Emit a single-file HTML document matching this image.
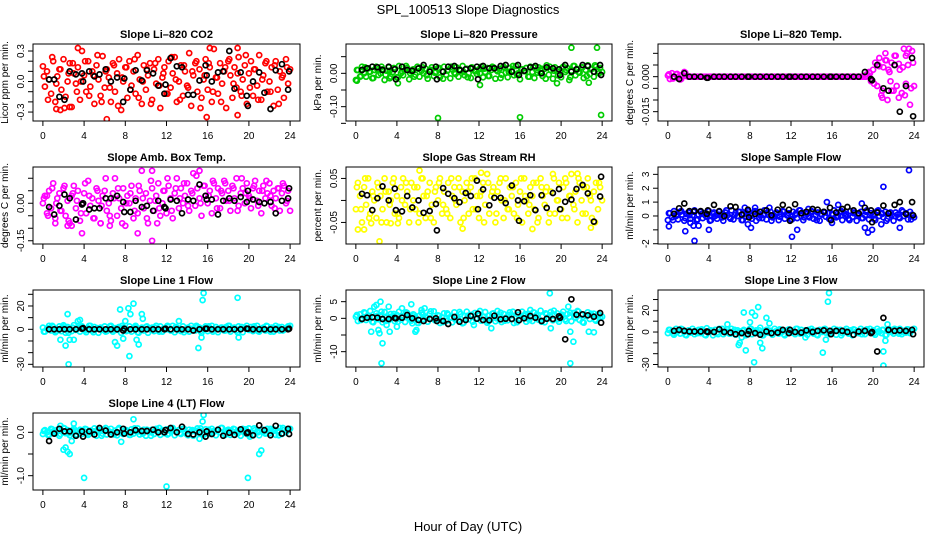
<!DOCTYPE html>
<html><head><meta charset="utf-8"><title>SPL_100513 Slope Diagnostics</title>
<style>
html,body{margin:0;padding:0;background:#fff;}
svg{display:block;font-family:"Liberation Sans",Arial,sans-serif;}
</style></head>
<body>
<svg id="chart" width="936" height="540" viewBox="0 0 936 540" xmlns="http://www.w3.org/2000/svg">
<rect x="0" y="0" width="936" height="540" fill="#fff"/>
<text x="468" y="14" text-anchor="middle" font-size="13">SPL_100513  Slope Diagnostics</text>
<text x="468" y="531" text-anchor="middle" font-size="13">Hour of Day (UTC)</text>
</svg>
<script>
// ---------- shared x data ----------
const HOURS = [0,0.2,0.4,0.6,0.8,1,1.2,1.4,1.6,1.8,2,2.2,2.4,2.6,2.8,3,3.2,3.4,3.6,3.8,4,4.2,4.4,4.6,4.8,5,5.2,5.4,5.6,5.8,6,6.2,6.4,6.6,6.8,7,7.2,7.4,7.6,7.8,8,8.2,8.4,8.6,8.8,9,9.2,9.4,9.6,9.8,10,10.2,10.4,10.6,10.8,11,11.2,11.4,11.6,11.8,12,12.2,12.4,12.6,12.8,13,13.2,13.4,13.6,13.8,14,14.2,14.4,14.6,14.8,15,15.2,15.4,15.6,15.8,16,16.2,16.4,16.6,16.8,17,17.2,17.4,17.6,17.8,18,18.2,18.4,18.6,18.8,19,19.2,19.4,19.6,19.8,20,20.2,20.4,20.6,20.8,21,21.2,21.4,21.6,21.8,22,22.2,22.4,22.6,22.8,23,23.2,23.4,23.6,23.8,24];
const HOURS2 = [0.1,0.5,0.9,1.3,1.7,2.1,2.5,2.9,3.3,3.7,4.1,4.5,4.9,5.3,5.7,6.1,6.5,6.9,7.3,7.7,8.1,8.5,8.9,9.3,9.7,10.1,10.5,10.9,11.3,11.7,12.1,12.5,12.9,13.3,13.7,14.1,14.5,14.9,15.3,15.7,16.1,16.5,16.9,17.3,17.7,18.1,18.5,18.9,19.3,19.7,20.1,20.5,20.9,21.3,21.7,22.1,22.5,22.9,23.3,23.7];
const BLACK_HOURS = [0.6,1.1,1.6,2.1,2.6,3.2,3.8,3.9,4.5,5.0,5.5,6.1,6.6,7.2,7.8,7.9,8.5,9.0,9.6,10.1,10.7,11.2,11.8,11.9,12.4,13.0,13.5,14.1,14.6,15.2,15.8,15.9,16.4,17.0,17.5,18.1,18.6,19.2,19.8,19.9,20.4,21.0,21.5,22.1,22.6,23.2,23.8,23.9];
const X_TICKS = [0,4,8,12,16,20,24];

// ---------- CO2 ----------
const co2Vals = [0.15,-0.05,0.1,0.02,-0.12,0.2,-0.2,0.05,0.12,-0.08,0.22,-0.15,0.0,0.18,-0.25,0.08,-0.02,0.14,-0.18,0.3,0.06,-0.1,0.2,-0.05,0.1,-0.22,0.16,0.02,-0.14,0.25,-0.06,0.12,0.04,-0.2,0.18,-0.1,0.08,0.22,-0.28,0.0,0.14,-0.16,0.2,-0.04,0.1,-0.12,0.26,0.02,-0.22,0.16,-0.08,0.06,0.18,-0.18,0.12,-0.02,0.22,-0.26,0.04,0.14,-0.12,0.2,-0.06,0.08,0.24,-0.2,0.0,0.16,-0.14,0.1,-0.04,0.28,-0.24,0.06,0.18,-0.1,0.12,-0.16,0.02,0.22,-0.08,0.14,-0.2,0.32,0.04,-0.12,0.18,-0.02,0.1,-0.26,0.2,0.06,-0.16,0.14,-0.06,0.24,-0.1,0.02,0.16,-0.22,0.08,0.2,-0.14,0.12,-0.04,0.26,-0.18,0.06,0.18,-0.1,0.0,0.14,-0.24,0.2,-0.08,0.1,0.04,-0.16,0.22,-0.02,0.12];
const co2Vals2 = [0.05,-0.18,0.24,-0.02,0.12,-0.26,0.08,0.18,-0.1,0.0,0.2,-0.14,0.06,0.26,-0.2,0.1,-0.06,0.16,-0.24,0.04,0.14,-0.08,0.22,-0.16,0.0,0.12,-0.22,0.18,-0.04,0.08,-0.12,0.24,0.02,-0.18,0.16,-0.06,0.1,0.2,-0.26,0.06,0.18,-0.1,0.04,-0.2,0.14,0.22,-0.02,0.08,-0.14,0.26,-0.06,0.12,-0.18,0.02,0.2,-0.1,0.16,-0.22,0.06,0.14];
const co2OutHours = [3.4,6.2,15.9,18.9,16.2,18.9,1.3,1.7,2.6];
const co2OutVals = [0.33,-0.37,-0.35,-0.33,0.33,0.33,-0.27,-0.28,-0.25];
const co2Black = [0.02,0.02,-0.15,-0.18,0.1,0.07,0.08,0.0,0.1,0.05,0.07,0.12,0.0,0.04,-0.2,0.03,-0.08,0.11,0.01,0.11,0.08,-0.04,-0.12,-0.03,0.23,0.15,0.14,-0.13,-0.13,0.01,0.16,0.06,0.0,0.09,0.1,0.3,-0.07,0.09,-0.14,-0.24,0.0,0.09,-0.11,-0.27,0.11,0.17,-0.08,0.1];
const co2Ticks = [-0.3,-0.2,-0.1,0,0.1,0.2,0.3];
const co2TickLabels = ["-0.3","","","0.0","","","0.3"];

// ---------- Pressure ----------
const presVals = [-0.02,0.01,-0.01,0.02,0.0,-0.01,0.015,0.005,-0.015,0.01,0.02,-0.005,0.0,0.012,-0.02,0.008,0.018,-0.01,0.004,0.015,-0.012,0.022,0.0,-0.006,0.01,0.016,-0.018,0.006,0.012,-0.004,0.02,-0.01,0.008,0.0,0.014,-0.016,0.01,0.018,-0.008,0.004,0.016,-0.012,0.006,0.02,-0.004,0.01,-0.015,0.012,0.002,0.018,-0.01,0.008,0.022,-0.006,0.014,0.0,-0.014,0.016,0.006,-0.002,0.012,0.02,-0.012,0.004,0.016,-0.008,0.01,0.018,-0.016,0.006,0.014,-0.004,0.02,0.002,-0.012,0.016,0.008,-0.006,0.022,0.0,-0.018,0.012,0.006,0.016,-0.01,0.02,0.004,-0.014,0.01,0.018,0.0,-0.008,0.014,0.024,-0.004,0.01,-0.016,0.018,0.006,0.012,-0.012,0.02,0.004,0.016,-0.02,0.008,0.022,-0.006,0.012,0.002,0.018,-0.014,0.01,0.024,-0.002,0.014,-0.01,0.02,0.006,0.016,0.004];
const presVals2 = [0.01,-0.008,0.018,0.004,-0.014,0.012,0.02,-0.004,0.008,0.016,-0.012,0.006,0.022,0.0,-0.01,0.014,0.018,-0.006,0.01,0.002,0.016,-0.016,0.008,0.02,-0.002,0.012,0.004,-0.012,0.018,0.006,0.0,0.014,-0.008,0.02,0.01,-0.014,0.016,0.004,0.022,-0.004,0.012,0.006,-0.01,0.018,0.002,0.014,-0.016,0.02,0.008,-0.006,0.016,0.01,-0.012,0.022,0.004,0.018,-0.008,0.012,0.024,0.0];
const presOutHours = [8,16,23.9,21,23.5,4.1,12.1,19.6,22.7,0.1,3.3];
const presOutVals = [-0.134,-0.132,-0.125,0.077,0.077,-0.03,-0.035,-0.03,-0.028,-0.022,-0.015];
const presBlack = [0.01,0.015,0.02,0.018,0.01,0.02,0.012,-0.018,0.02,0.01,0.008,0.015,0.025,0.005,0.02,-0.018,0.005,0.02,0.022,0.01,0.012,0.015,0.02,-0.018,0.022,0.015,0.015,0.022,0.025,0.005,0.025,-0.005,0.008,0.018,0.022,0.0,0.018,0.015,0.012,-0.005,0.025,0.005,0.012,0.025,0.022,0.005,0.025,-0.005];
const presTicks = [-0.15,-0.10,-0.05,0,0.05];
const presTickLabels = ["","-0.10","","0.00",""];

// ---------- Li-820 Temp ----------
const tempVals = [0.0005,-0.001,0.0015,-0.0005,0.001,0.0,-0.0012,0.0008,0.002,0.0003,
0,0,0,0,0,0,0,0,0,0,0,0,0,0,0,0,0,0,0,0,0,0,0,0,0,0,0,0,0,0,0,0,0,0,0,0,0,0,0,0,0,0,0,0,0,0,0,0,0,0,0,0,0,0,0,0,0,0,0,0,0,0,0,0,0,0,0,0,0,0,0,0,0,0,0,0,0,0,0,0,0,0,0,0,0,0,0,
0.001,0.002,-0.002,0.003,0.006,-0.004,0.008,-0.008,0.004,0.01,-0.01,0.002,0.006,-0.006,0.009,-0.022,0.003,-0.007,0.012,-0.003,0.005,-0.012,0.011,-0.004];
const tempVals2 = [0.001,-0.0008,0.0012,-0.001,0.0016,0,0,0,0,0,0,0,0,0,0,0,0,0,0,0,0,0,0,0,0,0,0,0,0,0,0,0,0,0,0,0,0,0,0,0,0,0,0,0,0,0,0,0,0,0.0015,-0.003,0.005,-0.006,0.007,-0.002,0.009,-0.009,0.004,0.01,-0.005];
const tempOutHours = [21.4,22.8,23.7,23.5,23.2,20.9,22.1,21.5,23.1,21.8,22.5,20.6,21.2,22.3,23.9];
const tempOutVals = [-0.027,-0.024,-0.025,0.012,0.009,-0.009,0.005,0.003,-0.008,-0.006,0.0055,0.0045,0.007,-0.004,0.006];
const tempBlack = [0,-0.001,0.0015,0,0,0,-0.0005,-0.0005,0,0,0,0,0,0,0,0,0,0,0,0,0,0,0,0,0,0,0,0,0,0,0,0,0,0,0,0,0,0.002,-0.001,-0.0015,0.005,-0.005,-0.006,0.005,-0.015,-0.004,0.008,-0.017];
const tempTicks = [-0.015,-0.010,-0.005,0,0.005,0.010];
const tempTickLabels = ["-0.015","","","0.000","",""];

// ---------- Amb Box Temp ----------
const ambVals = [0.0,0.03,-0.04,0.05,-0.02,0.08,-0.06,0.02,0.04,-0.03,0.06,-0.05,0.01,-0.08,0.03,0.07,-0.02,0.05,-0.07,0.0,0.04,-0.04,0.09,-0.01,0.02,-0.06,0.06,0.01,-0.08,0.03,0.05,-0.03,0.0,-0.07,0.04,0.1,-0.05,0.02,-0.02,0.06,-0.09,0.03,0.0,0.07,-0.06,0.02,-0.04,0.05,0.13,-0.02,0.04,-0.08,0.01,0.06,-0.03,0.03,0.08,-0.05,0.0,0.05,-0.04,0.07,0.02,-0.06,0.04,0.1,-0.02,0.06,0.0,0.03,0.08,-0.03,0.05,0.12,-0.01,0.06,0.02,-0.05,0.07,0.03,0.0,0.05,-0.04,0.08,0.02,0.06,-0.02,0.04,0.09,0.01,0.05,-0.03,0.07,0.02,0.1,-0.01,0.04,0.06,0.0,0.08,0.03,-0.02,0.06,0.09,0.01,0.05,-0.04,0.07,0.02,0.04,0.08,-0.01,0.05,0.02,0.06,-0.03,0.04,0.07,0.0,0.05,-0.03];
const ambVals2 = [0.02,-0.05,0.06,0.0,-0.03,0.07,-0.07,0.04,0.01,-0.04,0.08,0.03,-0.06,0.05,-0.01,0.1,-0.05,0.02,0.06,-0.08,0.0,0.04,-0.03,0.07,0.02,-0.06,0.09,0.01,-0.02,0.05,0.1,-0.03,0.06,0.02,0.08,-0.01,0.04,0.11,0.0,0.07,0.03,0.09,-0.02,0.05,0.08,0.01,0.06,-0.03,0.1,0.04,0.02,0.07,-0.01,0.05,0.09,0.03,-0.02,0.06,0.08,0.01];
const ambOutHours = [3.8,9.2,10.6,10.6,15.2,11.1,2.4,1.2,0.4,2.8,6.5,5.6];
const ambOutVals = [-0.12,-0.12,0.13,-0.15,0.13,-0.08,-0.09,-0.08,0.03,-0.09,-0.09,-0.08];
const ambBlack = [-0.015,-0.045,-0.01,0.035,0.02,-0.065,-0.005,0.0,-0.025,-0.02,-0.02,0.02,0.02,0.03,0.005,-0.035,-0.035,0.01,-0.015,-0.01,-0.03,0.01,-0.015,-0.02,0.015,0.01,-0.04,0.015,0.01,0.075,0.03,0.015,0.015,-0.045,0.01,0.02,0.01,0.025,0.005,0.05,0.015,0.005,0.0,0.005,-0.04,0.01,0.02,0.06];
const ambTicks = [-0.15,-0.10,-0.05,0,0.05,0.10];
const ambTickLabels = ["-0.15","","","0.00","",""];

// ---------- Gas Stream RH ----------
const rhVals = [-0.02,0.04,0.01,-0.05,0.03,-0.01,0.05,-0.03,0.02,0.0,-0.04,0.03,0.01,-0.02,0.05,-0.05,0.02,0.0,0.04,-0.03,0.01,-0.04,0.03,0.05,-0.01,0.02,-0.05,0.04,0.0,-0.02,0.03,-0.03,0.05,0.01,-0.04,0.02,0.04,-0.01,-0.05,0.03,0.0,0.05,-0.03,0.02,-0.02,0.04,-0.04,0.01,0.03,-0.01,0.05,-0.05,0.02,0.0,0.04,-0.03,0.03,-0.02,0.05,0.01,-0.04,0.02,0.04,-0.01,0.06,-0.03,0.01,0.03,-0.05,0.02,0.04,0.0,-0.04,0.05,-0.02,0.03,0.01,-0.03,0.04,-0.01,0.02,-0.05,0.05,0.0,-0.03,0.03,0.01,-0.02,0.04,-0.04,0.05,0.01,-0.01,0.03,-0.05,0.02,0.06,-0.03,0.0,0.04,-0.02,0.03,0.05,-0.04,0.01,0.06,-0.01,0.02,-0.05,0.04,0.0,0.03,-0.03,0.05,0.01,-0.04,0.02,0.04,-0.02,0.03,0.0];
const rhVals2 = [0.03,-0.02,0.05,-0.04,0.01,0.04,-0.05,0.02,-0.01,0.05,-0.03,0.0,0.04,-0.02,0.03,-0.05,0.05,0.01,-0.04,0.02,0.04,-0.01,-0.03,0.05,0.0,0.03,-0.04,0.02,0.05,-0.02,0.01,-0.05,0.04,0.02,-0.03,0.05,0.0,-0.02,0.03,-0.04,0.05,0.01,-0.01,0.04,-0.05,0.03,0.02,-0.03,0.05,0.0,-0.04,0.04,0.01,-0.02,0.05,-0.03,0.03,0.0,-0.05,0.04];
const rhOutHours = [0.2,0.8,2.3,6.2,10.4,17.2,22.9,12.2,21.6,3.4,1.5,4.1];
const rhOutVals = [-0.066,-0.066,-0.093,0.068,-0.064,-0.065,-0.062,0.063,0.061,-0.052,-0.052,-0.052];
const rhBlack = [0.015,0.012,-0.022,0.005,0.032,0.0,0.027,-0.022,-0.025,0.01,-0.016,0.0,-0.028,-0.024,-0.008,-0.068,0.028,0.015,0.005,-0.004,0.017,0.01,0.045,-0.02,0.025,-0.011,0.006,0.006,-0.006,0.034,0.0,-0.046,-0.002,0.012,-0.022,0.012,-0.017,0.017,0.026,-0.02,-0.003,0.002,0.026,0.035,0.016,-0.048,0.009,0.054];
const rhTicks = [-0.05,0,0.05];
const rhTickLabels = ["-0.05","","0.05"];

// ---------- Sample Flow ----------
const sampVals = [-0.3,0.2,-0.1,0.35,0.0,-0.25,0.3,0.1,-0.35,0.15,0.25,-0.2,0.05,0.4,-0.3,0.1,0.3,-0.15,0.2,-0.05,0.35,-0.3,0.15,0.0,-0.2,0.3,0.1,-0.35,0.25,0.05,-0.1,0.4,-0.25,0.2,0.0,0.3,-0.3,0.15,-0.05,0.35,0.1,-0.2,0.3,-0.35,0.2,0.05,-0.15,0.4,-0.25,0.1,0.3,-0.1,0.0,0.25,-0.3,0.15,0.35,-0.2,0.05,0.2,-0.25,0.3,0.1,-0.15,0.4,0.0,-0.3,0.2,0.15,-0.1,0.35,-0.2,0.05,0.25,-0.35,0.1,0.3,-0.05,0.2,-0.25,0.15,0.4,-0.1,0.0,0.3,-0.3,0.2,0.1,-0.2,0.35,-0.05,0.25,-0.35,0.15,0.3,-0.15,0.05,0.4,-0.25,0.2,0.1,-0.3,0.35,0.0,0.2,-0.1,0.3,-0.2,0.15,0.05,-0.35,0.25,0.1,-0.15,0.4,0.0,0.2,-0.25,0.3,0.1,-0.1];
const sampVals2 = [0.2,-0.3,0.1,0.35,-0.15,0.05,0.3,-0.25,0.15,0.0,-0.35,0.25,0.1,-0.1,0.4,-0.2,0.05,0.3,-0.3,0.2,0.0,0.35,-0.15,0.1,0.25,-0.35,0.15,-0.05,0.3,0.05,-0.25,0.2,0.4,-0.1,0.0,0.3,-0.3,0.15,0.25,-0.2,0.1,-0.05,0.35,0.0,-0.3,0.2,0.1,-0.15,0.3,0.05,-0.2,0.4,0.15,-0.35,0.25,0.0,-0.1,0.3,0.1,-0.25];
const sampOutHours = [0.1,1.7,2.5,2.6,3.0,4.0,8.1,12.1,12.6,19.2,19.5,19.9,21.0,23.5,22.6,15.5,16.6,18.9,7.5,9.9,20.8,16.0,2.2,7.8,8.5,13.7];
const sampOutVals = [-0.75,-1.1,-0.7,-1.8,-0.7,-1.0,-0.85,-1.5,-1.0,-0.85,-1.2,-1.0,2.1,3.3,-0.85,1.0,0.8,0.9,0.6,0.6,-0.6,-0.5,-0.5,-0.6,0.6,0.5];
const sampBlack = [0.15,0.55,0.9,0.35,0.35,0.35,0.15,0.4,0.8,0.35,0.0,0.7,0.65,0.1,0.45,-0.1,0.15,0.3,0.4,0.05,0.45,0.8,0.45,-0.35,0.85,0.2,0.3,0.5,0.45,0.3,0.6,-0.3,0.25,0.5,0.65,0.4,0.2,0.6,0.4,-0.45,0.25,0.75,0.2,0.8,1.0,0.15,1.0,0.05];
const sampTicks = [-2,-1,0,1,2,3];
const sampTickLabels = ["-2","","0","1","2","3"];

// ---------- Line 1 ----------
const l1Vals = [1.5,-2,0.5,3,-1,2,-2.5,0.0,2.5,-1.5,1,-3,2,0.5,-1.5,3.5,-0.5,1.5,-2,2.5,0,-2.5,1,3,-1,2,0.5,-3,1.5,-0.5,2.5,-1.5,0.5,3,-2,1,-0.5,2,-3,1.5,0.5,-1,2.5,-2,1,3,-2.5,0.0,1.5,-1,2,-3,0.5,1.5,-1.5,3,-0.5,2.5,-2,1,0,2,-1,3,-2.5,1.5,0.5,-1.5,2.5,-0.5,1,-2,3,0.0,-1,2,1.5,-3,0.5,2.5,-1.5,1,3,-0.5,2,-2.5,0.5,1.5,-1,2,3,-2,0.0,1.5,-1,2.5,0.5,-2.5,1,3,-0.5,2,-1.5,1,3,-2,0.5,1.5,-1,2.5,0,1.5,-2,3,0.5,-1,2,-0.5,1,2.5,3];
const l1Vals2 = [-2,1,3,-1.5,0.5,2.5,-3,1.5,0,2,-1,3,-2.5,1,0.5,-2,2.5,-0.5,1.5,3,-1.5,0,2,-3,1,2.5,-0.5,1.5,-2,0.5,3,-1,2,0,-2.5,1.5,0.5,3,-1.5,1,2.5,-2,0,1.5,-1,3,0.5,-2.5,2,1,-0.5,2.5,-1.5,0.5,3,-2,1,2,-1,0.5];
const l1OutHours = [1.7,2.0,2.2,2.4,2.5,2.6,3.0,3.4,3.6,7.0,7.2,7.5,7.8,8.0,8.3,8.4,8.5,8.8,9.1,9.3,9.6,9.7,15.1,15.4,15.5,15.6,18.9,19.0,13.2];
const l1OutVals = [-9,3.5,-14,13,-30,-9,-9,7,8,-11,-14,17,-8,7,18,-23,13,22,-9,-13,13,9,-16,-7,25,31,27,-7,7];
const l1Black = [0,0,0,0,0,0,0.5,1,0,0,0,0,0,0,-1,0.5,0,0,0,0,0,0,0,0.5,0,0,0,0,-1,0,0.5,0.5,0,0,0,0,0,0,0.5,0.5,0,0,0,0,0,0,0,0.5];
const l1Ticks = [-30,-20,-10,0,10,20,30];
const l1TickLabels = ["-30","","","0","","20",""];

// ---------- Line 2 ----------
const l2Vals = [0.5,-0.8,1.2,0.0,1.8,-0.5,0.8,2.2,-1.0,0.3,1.5,-0.3,0.9,-1.2,1.9,0.2,-0.6,1.3,0.6,-0.9,1.0,2.0,-0.4,0.7,-1.1,1.6,0.1,-0.7,1.2,0.4,-1.3,0.8,1.7,-0.2,0.5,-1.0,1.4,0.0,2.1,-0.6,0.9,-1.4,0.3,1.5,-0.8,1.1,0.2,-1.2,1.8,0.6,-0.5,1.3,-1.5,0.7,2.0,-0.3,0.9,-1.0,1.6,0.1,1.2,-0.7,0.4,1.9,-1.3,0.8,0.0,1.5,-0.9,2.2,0.5,-1.1,1.3,0.2,-0.6,1.8,0.9,-1.4,0.6,1.1,-0.2,2.0,0.7,-1.0,1.4,0.3,-0.8,1.7,1.0,-0.4,2.3,0.6,-1.2,1.2,0.0,1.9,-0.6,0.9,1.5,-1.0,0.8,2.0,-0.3,1.3,0.4,-0.9,1.6,0.1,2.2,-0.5,1.0,-1.3,0.7,1.8,-0.2,0.9,1.4,-0.7,1.2,0.3,0.5];
const l2Vals2 = [1.0,-0.5,1.6,0.2,-1.2,0.8,2.0,-0.8,0.4,1.3,-1.0,0.6,1.8,-0.3,0.9,-1.4,1.2,0.1,2.1,-0.6,0.7,-1.1,1.5,0.3,-0.4,1.9,-1.3,0.8,1.1,-0.2,2.2,0.5,-0.9,1.4,0.0,1.7,-0.7,1.0,2.0,-1.2,0.6,1.3,-0.5,1.8,0.2,-1.0,1.5,0.9,2.3,-0.3,1.1,-0.8,1.7,0.4,2.0,-1.1,0.8,1.4,-0.4,1.0];
const l2OutHours = [1.5,1.8,2.0,2.2,2.3,2.4,2.5,2.6,3.0,3.2,3.3,4.0,4.5,5.4,5.5,5.8,5.9,6.4,6.7,18.9,19.0,20.7,20.9,20.9,21.2,22.7,23.2,13.2,11.5,17.0];
const l2OutVals = [-4,3.5,4,-3.5,-4.5,5,-13.5,-7.5,-2,3.5,-4,-2.5,3,4.2,-1.5,-4,-3.5,2.5,3,7.5,-3,3.5,-4,-13.5,-7,-4,-4.2,-3,-2,2.5];
const l2Black = [-0.2,0.2,0.3,0.2,-0.2,-0.2,0.1,0.0,0.2,1.0,0.0,-0.5,-0.8,-0.2,0.0,-0.8,-0.8,-1.7,0.4,-1.0,-0.5,0.7,-0.1,1.4,-0.5,-0.6,0.8,-0.3,-0.1,-0.2,1.8,-0.6,0.0,0.7,0.2,-0.8,-0.1,-0.2,0.6,0.2,-6.3,5.7,1.1,1.2,0.9,0.5,1.6,-1.3];
const l2Ticks = [-10,-5,0,5];
const l2TickLabels = ["-10","","0","5"];

// ---------- Line 3 ----------
const l3Vals = [-1,2,0.5,-2.5,3,1,-1.5,2.5,0,-3,1.5,-0.5,3,-2,0.5,2,-1,1,-2.5,3.5,0,1.5,-3,2,-0.5,3,1,-2,0.5,2.5,-1.5,3,0,-2.5,1.5,0.5,-1,2,-3,1,3,-2,0.5,1.5,-1,4,-3,0,2,-0.5,1,-2.5,3,0,-1.5,2,0.5,-3,1.5,2.5,-0.5,1,-2,3,0,2,-1,1.5,-2.5,0.5,3,-1.5,1,-3,2,0,2.5,-0.5,1,-2,0.5,3,-2.5,1,2,-1,0,3,-1.5,1.5,-3,2,0.5,-1,3,1,-2,2.5,0,-0.5,1.5,-2.5,3,0.5,-1,2,-3,1,2.5,0,-1.5,2,0.5,3,-2,1,-0.5,2.5,-1,1.5,3];
const l3Vals2 = [2,-1.5,0,3,-2.5,1,0.5,-1,2.5,-3,1.5,0,-2,3,0.5,-1.5,2,-0.5,1,-2.5,3,0,1.5,-3,2,-1,0.5,2.5,-2,1,-0.5,3,-1.5,0,2,1,-2.5,1.5,3,-1,0.5,2,-3,1,-0.5,2.5,0,-2,1.5,3,-1,0.5,2,-2.5,1,3,-1.5,0,2.5,1];
const l3OutHours = [6.9,7.0,7.2,7.4,7.6,8.0,8.2,8.4,8.5,8.8,9.0,9.2,9.6,9.9,15.1,15.4,15.6,15.7,21.0,21.0,21.2,21.4,5.8,13.4];
const l3OutVals = [-12,-10,-5,18,-17,9,18,-28,15,23,-10,-15,13,8,-19,-7,28,36,-18,-31,-8,7,7,-5];
const l3Black = [1,2,1,0.5,0.5,0.5,0.5,0,0,2.5,0,-0.5,-2,-1,-2,1,-1,-2.5,0.5,-1,-0.5,2,-1,2,0,-0.5,1.5,0,1,1.5,1,-2,1,1,0,-2.5,0.5,1,-1,0,-18,13,2,1,1.5,1,2,-2];
const l3Ticks = [-30,-20,-10,0,10,20,30];
const l3TickLabels = ["-30","","","0","","20",""];

// ---------- Line 4 ----------
const l4Vals = [-0.04,0.05,0.0,-0.06,0.08,0.02,-0.03,0.06,-0.08,0.04,0.1,-0.02,0.05,-0.07,0.03,0.08,-0.05,0.01,0.06,-0.04,0.02,0.07,-0.06,0.04,-0.01,0.09,-0.08,0.03,0.05,-0.03,0.06,-0.05,0.02,0.08,-0.02,0.04,-0.07,0.1,0.0,-0.04,0.05,0.01,-0.06,0.07,-0.03,0.03,0.09,-0.05,0.02,0.06,-0.08,0.04,0.0,0.06,-0.04,0.08,0.02,-0.06,0.05,-0.02,0.07,-0.03,0.03,0.1,-0.07,0.01,0.05,-0.04,0.08,0.0,-0.05,0.06,0.02,-0.08,0.04,0.09,-0.02,0.03,-0.06,0.07,0.01,-0.04,0.08,0.03,-0.07,0.05,0.0,0.1,-0.03,0.04,0.06,-0.06,0.02,0.07,-0.01,0.04,-0.08,0.08,0.03,-0.04,0.09,0.0,-0.05,0.05,0.02,-0.07,0.06,0.01,-0.03,0.08,-0.02,0.04,0.07,-0.06,0.03,0.1,-0.04,0.05,0.0,0.06,0.08];
const l4Vals2 = [0.03,-0.06,0.07,0.0,-0.04,0.09,-0.02,0.05,-0.07,0.04,0.08,-0.03,0.02,0.06,-0.08,0.1,0.01,-0.05,0.07,-0.01,0.05,-0.06,0.09,0.02,-0.03,0.06,-0.08,0.04,0.1,0.0,-0.05,0.07,0.03,-0.02,0.08,-0.07,0.05,0.01,0.09,-0.04,0.06,-0.01,0.03,0.1,-0.06,0.04,0.08,-0.03,0.02,0.07,-0.05,0.09,0.0,0.06,-0.02,0.08,0.04,-0.07,0.1,0.05];
const l4OutHours = [2.0,2.2,2.4,2.6,2.8,4.0,3.0,1.7,8.8,7.6,12.0,15.2,15.5,15.6,19.9,21.0,21.2,20.1];
const l4OutVals = [-0.4,-0.35,-0.45,-0.5,-0.2,-1.05,0.2,0.15,0.3,-0.22,-1.25,-0.15,0.25,0.4,-1.05,-0.5,-0.42,-0.1];
const l4Black = [-0.2,-0.03,0.08,0.02,0.02,-0.08,0.02,-0.1,0.02,-0.05,0.1,0.04,-0.05,0.0,0.08,-0.03,0.0,0.05,0.03,0.03,0.06,0.0,0.0,0.05,0.1,0.0,0.13,-0.04,-0.05,0.0,-0.1,0.02,-0.04,0.06,-0.08,-0.01,-0.06,0.07,-0.02,0.0,-0.07,0.16,0.05,-0.07,0.15,-0.03,0.08,-0.04];
const l4Ticks = [-1.0,-0.5,0];
const l4TickLabels = ["-1.0","","0.0"];

// ---------- panel layout (geometry + axis domains) ----------
const COLS = [[33,300],[346,612],[658,924]];
const ROWS = [[44,121],[167,244],[290,367],[413,490]];
const panels = [
 {id:'co2',title:'Slope Li\u2013820 CO2',ylab:'Licor ppm per min.',col:0,row:0,color:'#ff0000',ymin:-0.388,ymax:0.369,vals:co2Vals,vals2:co2Vals2,oh:co2OutHours,ov:co2OutVals,blk:co2Black,ticks:co2Ticks,tl:co2TickLabels},
 {id:'pressure',title:'Slope Li\u2013820 Pressure',ylab:'kPa per min.',col:1,row:0,color:'#00cc00',ymin:-0.143,ymax:0.088,vals:presVals,vals2:presVals2,oh:presOutHours,ov:presOutVals,blk:presBlack,ticks:presTicks,tl:presTickLabels},
 {id:'li820-temp',title:'Slope Li\u2013820 Temp.',ylab:'degrees C per min.',col:2,row:0,color:'#ff00ff',ymin:-0.019,ymax:0.014,vals:tempVals,vals2:tempVals2,oh:tempOutHours,ov:tempOutVals,blk:tempBlack,ticks:tempTicks,tl:tempTickLabels},
 {id:'amb-box-temp',title:'Slope Amb. Box Temp.',ylab:'degrees C per min.',col:0,row:1,color:'#ff00ff',ymin:-0.163,ymax:0.145,vals:ambVals,vals2:ambVals2,oh:ambOutHours,ov:ambOutVals,blk:ambBlack,ticks:ambTicks,tl:ambTickLabels},
 {id:'gas-stream-rh',title:'Slope Gas Stream RH',ylab:'percent per min.',col:1,row:1,color:'#ffff00',ymin:-0.099,ymax:0.076,vals:rhVals,vals2:rhVals2,oh:rhOutHours,ov:rhOutVals,blk:rhBlack,ticks:rhTicks,tl:rhTickLabels},
 {id:'sample-flow',title:'Slope Sample Flow',ylab:'ml/min per min.',col:2,row:1,color:'#0000ff',ymin:-2.02,ymax:3.53,vals:sampVals,vals2:sampVals2,oh:sampOutHours,ov:sampOutVals,blk:sampBlack,ticks:sampTicks,tl:sampTickLabels},
 {id:'line1-flow',title:'Slope Line 1 Flow',ylab:'ml/min per min.',col:0,row:2,color:'#00ffff',ymin:-32.3,ymax:33.7,vals:l1Vals,vals2:l1Vals2,oh:l1OutHours,ov:l1OutVals,blk:l1Black,ticks:l1Ticks,tl:l1TickLabels},
 {id:'line2-flow',title:'Slope Line 2 Flow',ylab:'ml/min per min.',col:1,row:2,color:'#00ffff',ymin:-14.6,ymax:8.5,vals:l2Vals,vals2:l2Vals2,oh:l2OutHours,ov:l2OutVals,blk:l2Black,ticks:l2Ticks,tl:l2TickLabels},
 {id:'line3-flow',title:'Slope Line 3 Flow',ylab:'ml/min per min.',col:2,row:2,color:'#00ffff',ymin:-32.3,ymax:38.8,vals:l3Vals,vals2:l3Vals2,oh:l3OutHours,ov:l3OutVals,blk:l3Black,ticks:l3Ticks,tl:l3TickLabels},
 {id:'line4-flow',title:'Slope Line 4 (LT) Flow',ylab:'ml/min per min.',col:0,row:3,color:'#00ffff',ymin:-1.33,ymax:0.445,vals:l4Vals,vals2:l4Vals2,oh:l4OutHours,ov:l4OutVals,blk:l4Black,ticks:l4Ticks,tl:l4TickLabels}
];

const NS = 'http://www.w3.org/2000/svg';
const svg = document.getElementById('chart');
function mk(tag, attrs, parent){
  const e = document.createElementNS(NS, tag);
  for (const k in attrs) e.setAttribute(k, attrs[k]);
  (parent||svg).appendChild(e);
  return e;
}
function circle(g, cx, cy, color, name){
  const c = mk('circle', {cx:cx.toFixed(1), cy:cy.toFixed(1), r:2.5, fill:'none', stroke:color, 'stroke-width':1.7}, g);
  
  
}

panels.forEach(p => {
  const [x0,x1] = COLS[p.col], [y0,y1] = ROWS[p.row];
  const xs = h => x0 + (h + 0.96) / 25.92 * (x1 - x0);
  const ys = v => y1 - (v - p.ymin) / (p.ymax - p.ymin) * (y1 - y0);
  const g = mk('g', {});
  
  
  const cp = mk('clipPath', {id:'clip-' + p.id}, g);
  mk('rect', {x:x0, y:y0, width:x1-x0, height:y1-y0}, cp);
  const marks = mk('g', {'clip-path':'url(#clip-' + p.id + ')'}, g);
  
  
  const n = Math.min(HOURS.length, p.vals.length);
  for (let i = 0; i < n; i++) circle(marks, xs(HOURS[i]), ys(p.vals[i]), p.color, p.id + '-point');
  const n2 = Math.min(HOURS2.length, p.vals2.length);
  for (let i = 0; i < n2; i++) circle(marks, xs(HOURS2[i]), ys(p.vals2[i]), p.color, p.id + '-point');
  const m = Math.min(p.oh.length, p.ov.length);
  for (let i = 0; i < m; i++) circle(marks, xs(p.oh[i]), ys(p.ov[i]), p.color, p.id + '-outlier-point');
  const b = Math.min(BLACK_HOURS.length, p.blk.length);
  for (let i = 0; i < b; i++) circle(marks, xs(BLACK_HOURS[i]), ys(p.blk[i]), '#000', p.id + '-reference-point');

  const box = mk('rect', {x:x0, y:y0, width:x1-x0, height:y1-y0, fill:'none', stroke:'#000', 'stroke-width':1}, g);
  
  

  const t = mk('text', {x:(x0+x1)/2, y:y0-6, 'text-anchor':'middle', 'font-size':11, 'font-weight':'bold'}, g);
  t.textContent = p.title;
  
  

  X_TICKS.forEach(h => {
    const x = xs(h);
    mk('line', {x1:x, x2:x, y1:y1, y2:y1+5, stroke:'#000'}, g);
    const tl = mk('text', {x:x, y:y1+18, 'text-anchor':'middle', 'font-size':10}, g);
    tl.textContent = String(h);
    
    
  });
  p.ticks.forEach((v, i) => {
    const y = ys(v);
    mk('line', {x1:x0-5, x2:x0, y1:y, y2:y, stroke:'#000'}, g);
    if (p.tl[i]) {
      const tl = mk('text', {x:x0-9, y:y, 'text-anchor':'middle', 'font-size':10, transform:'rotate(-90 ' + (x0-9) + ' ' + y + ')'}, g);
      tl.textContent = p.tl[i];
      
      
    }
  });
  const yc = (y0 + y1) / 2, xl = x0 - 25;
  const yl = mk('text', {x:xl, y:yc, 'text-anchor':'middle', 'font-size':10, transform:'rotate(-90 ' + xl + ' ' + yc + ')'}, g);
  yl.textContent = p.ylab;
  
  
});
</script>
</body></html>
